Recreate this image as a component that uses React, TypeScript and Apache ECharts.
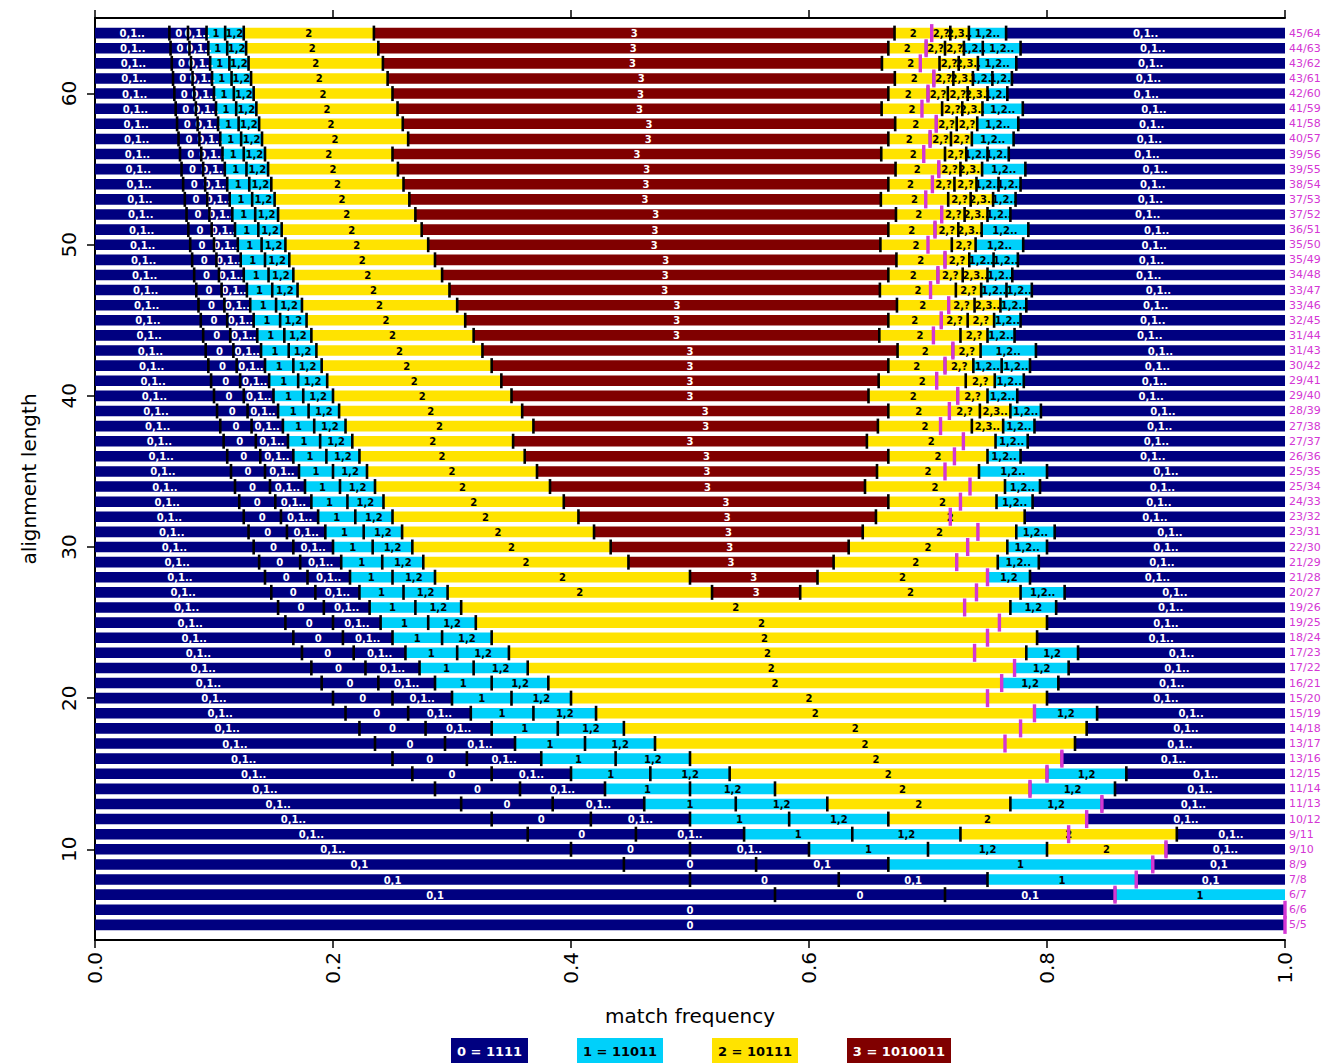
import React, { useEffect, useRef } from "react";
import * as echarts from "echarts";

// alignment lengths (rows, top to bottom)
const lengths = [
  64, 63, 62, 61, 60, 59, 58, 57, 56, 55, 54, 53, 52, 51, 50, 49, 48, 47, 46, 45,
  44, 43, 42, 41, 40, 39, 38, 37, 36, 35, 34, 33, 32, 31, 30, 29, 28, 27, 26, 25,
  24, 23, 22, 21, 20, 19, 18, 17, 16, 15, 14, 13, 12, 11, 10, 9, 8, 7, 6, 5,
];

// threshold number of matches per row (magenta mark, right label T/L)
const thresholds = [
  45, 44, 43, 43, 42, 41, 41, 40, 39, 39, 38, 37, 37, 36, 35, 35, 34, 33, 33, 32,
  31, 31, 30, 29, 29, 28, 27, 27, 26, 25, 25, 24, 23, 23, 22, 21, 21, 20, 19, 19,
  18, 17, 17, 16, 15, 15, 14, 13, 13, 12, 11, 11, 10, 9, 9, 8, 7, 6, 6, 5,
];

// segments per row: "endMatchCount:label" (segment runs from previous end)
const leftPart = "4:0,1.. 5:0 6:0,1.. 7:1 8:1,2";
const rowSegments = [
  `${leftPart} 15:2 43:3 45:2 46:2,? 47:2,3.. 49:1,2.. 64:0,1..`,
  `${leftPart} 15:2 42:3 44:2 45:2,? 46:2,? 47:1,2.. 49:1,2.. 63:0,1..`,
  `${leftPart} 15:2 41:3 44:2 45:2,? 46:2,3.. 48:1,2.. 62:0,1..`,
  `${leftPart} 15:2 41:3 43:2 44:2,? 45:2,3.. 46:1,2.. 47:1,2.. 61:0,1..`,
  `${leftPart} 15:2 40:3 42:2 43:2,? 44:2,? 45:2,3.. 46:1,2.. 60:0,1..`,
  `${leftPart} 15:2 39:3 42:2 43:2,? 44:2,3.. 46:1,2.. 59:0,1..`,
  `${leftPart} 15:2 39:3 41:2 42:2,? 43:2,? 45:1,2.. 58:0,1..`,
  `${leftPart} 15:2 38:3 40:2 41:2,? 42:2,? 44:1,2.. 57:0,1..`,
  `${leftPart} 14:2 37:3 40:2 41:2,? 42:1,2.. 43:1,2.. 56:0,1..`,
  `${leftPart} 14:2 37:3 39:2 40:2,? 41:2,3.. 43:1,2.. 55:0,1..`,
  `${leftPart} 14:2 36:3 38:2 39:2,? 40:2,? 41:1,2.. 42:1,2.. 54:0,1..`,
  `${leftPart} 14:2 35:3 38:2 39:2,? 40:2,3.. 41:1,2.. 53:0,1..`,
  `${leftPart} 14:2 35:3 37:2 38:2,? 39:2,3.. 40:1,2.. 52:0,1..`,
  `${leftPart} 14:2 34:3 36:2 37:2,? 38:2,3.. 40:1,2.. 51:0,1..`,
  `${leftPart} 14:2 33:3 36:2 37:2,? 39:1,2.. 50:0,1..`,
  `${leftPart} 14:2 33:3 35:2 36:2,? 37:1,2.. 38:1,2.. 49:0,1..`,
  `${leftPart} 14:2 32:3 34:2 35:2,? 36:2,3.. 37:1,2.. 48:0,1..`,
  `${leftPart} 14:2 31:3 34:2 35:2,? 36:1,2.. 37:1,2.. 47:0,1..`,
  `${leftPart} 14:2 31:3 33:2 34:2,? 35:2,3.. 36:1,2.. 46:0,1..`,
  `${leftPart} 14:2 30:3 32:2 33:2,? 34:2,? 35:1,2.. 45:0,1..`,
  `${leftPart} 14:2 29:3 32:2 33:2,? 34:1,2.. 44:0,1..`,
  `${leftPart} 14:2 29:3 31:2 32:2,? 34:1,2.. 43:0,1..`,
  `${leftPart} 14:2 28:3 30:2 31:2,? 32:1,2.. 33:1,2.. 42:0,1..`,
  `${leftPart} 14:2 27:3 30:2 31:2,? 32:1,2.. 41:0,1..`,
  `${leftPart} 14:2 26:3 29:2 30:2,? 31:1,2.. 40:0,1..`,
  `${leftPart} 14:2 26:3 28:2 29:2,? 30:2,3.. 31:1,2.. 39:0,1..`,
  `${leftPart} 14:2 25:3 28:2 29:2,3.. 30:1,2.. 38:0,1..`,
  `${leftPart} 13:2 24:3 28:2 29:1,2.. 37:0,1..`,
  `${leftPart} 13:2 24:3 27:2 28:1,2.. 36:0,1..`,
  `${leftPart} 13:2 23:3 26:2 28:1,2.. 35:0,1..`,
  `${leftPart} 13:2 22:3 26:2 27:1,2.. 34:0,1..`,
  `${leftPart} 13:2 22:3 25:2 26:1,2.. 33:0,1..`,
  `${leftPart} 13:2 21:3 25:2 32:0,1..`,
  `${leftPart} 13:2 20:3 24:2 25:1,2.. 31:0,1..`,
  `${leftPart} 13:2 19:3 23:2 24:1,2.. 30:0,1..`,
  `${leftPart} 13:2 18:3 22:2 23:1,2.. 29:0,1..`,
  `${leftPart} 14:2 17:3 21:2 22:1,2 28:0,1..`,
  `${leftPart} 14:2 16:3 21:2 22:1,2.. 27:0,1..`,
  `${leftPart} 20:2 21:1,2 26:0,1..`,
  `${leftPart} 20:2 25:0,1..`,
  `${leftPart} 19:2 24:0,1..`,
  `${leftPart} 18:2 19:1,2 23:0,1..`,
  `${leftPart} 17:2 18:1,2 22:0,1..`,
  `${leftPart} 16:2 17:1,2 21:0,1..`,
  `${leftPart} 16:2 20:0,1..`,
  `${leftPart} 15:2 16:1,2 19:0,1..`,
  `${leftPart} 15:2 18:0,1..`,
  `${leftPart} 14:2 17:0,1..`,
  `${leftPart} 13:2 16:0,1..`,
  `${leftPart} 12:2 13:1,2 15:0,1..`,
  `${leftPart} 11:2 12:1,2 14:0,1..`,
  `${leftPart} 10:2 11:1,2 13:0,1..`,
  `${leftPart} 10:2 12:0,1..`,
  `${leftPart} 10:2 11:0,1..`,
  `${leftPart} 9:2 10:0,1..`,
  "4:0,1 5:0 6:0,1 8:1 9:0,1",
  "4:0,1 5:0 6:0,1 7:1 8:0,1",
  "4:0,1 5:0 6:0,1 7:1",
  "6:0",
  "5:0",
];

const classColors = ["#000080", "#00d0fa", "#ffe300", "#800000"];
const classTextColors = ["#ffffff", "#000000", "#000000", "#ffffff"];
const legendLabels = ["0 = 1111", "1 = 11011", "2 = 10111", "3 = 1010011"];
const xTickValues = [0, 0.2, 0.4, 0.6, 0.8, 1.0];
const yTickValues = [10, 20, 30, 40, 50, 60];

const FONT = "DejaVu Sans";
const MAGENTA = "#d436d4";

type Seg = { L: number; x0: number; x1: number; label: string; cls: number };

function buildData() {
  const segs: Seg[] = [];
  const bounds: { L: number; x: number }[] = [];
  const marks: { L: number; x: number }[] = [];
  lengths.forEach((L, i) => {
    const parts = rowSegments[i].trim().split(/\s+/);
    let prev = 0;
    parts.forEach((p, j) => {
      const c = p.indexOf(":");
      const k = Number(p.slice(0, c));
      const label = p.slice(c + 1);
      segs.push({ L, x0: prev / L, x1: k / L, label, cls: Number(label[0]) });
      if (j < parts.length - 1) bounds.push({ L, x: k / L });
      prev = k;
    });
    marks.push({ L, x: thresholds[i] / L });
  });
  return { segs, bounds, marks };
}

export default function App() {
  const ref = useRef<HTMLDivElement>(null);
  useEffect(() => {
    if (!ref.current) return;
    const chart = echarts.init(ref.current, null, { renderer: "svg" });
    const { segs, bounds, marks } = buildData();
    const rightLabel: Record<number, string> = {};
    lengths.forEach((L, i) => (rightLabel[L] = `${thresholds[i]}/${L}`));

    const legendX = [451, 577, 712, 847];
    const legendW = [77, 86, 86, 104];

    const option: any = {
      animation: false,
      backgroundColor: "#ffffff",
      grid: { left: 95, right: 52, top: 18, bottom: 123, containLabel: false, outerBoundsMode: "none" },
      xAxis: [
        {
          type: "value",
          min: 0,
          max: 1,
          interval: 0.2,
          position: "bottom",
          axisLine: { show: true, lineStyle: { color: "#000", width: 2 } },
          axisTick: { show: true, length: 8, lineStyle: { color: "#000", width: 1.5 }, customValues: xTickValues },
          axisLabel: {
            customValues: xTickValues,
            rotate: 90,
            fontSize: 20,
            fontFamily: FONT,
            color: "#000",
            margin: 12,
            formatter: (v: number) => v.toFixed(1),
          },
          splitLine: { show: false },
          name: "match frequency",
          nameLocation: "middle",
          nameGap: 66,
          nameTextStyle: { fontSize: 20, fontFamily: FONT, color: "#000", verticalAlign: "top" },
        },
        {
          type: "value",
          min: 0,
          max: 1,
          interval: 0.2,
          position: "top",
          axisLine: { show: true, lineStyle: { color: "#000", width: 2 } },
          axisTick: { show: true, length: 8, lineStyle: { color: "#000", width: 1.5 }, customValues: xTickValues },
          axisLabel: { show: false },
          splitLine: { show: false },
        },
      ],
      yAxis: [
        {
          type: "value",
          min: 4,
          max: 65,
          position: "left",
          axisLine: { show: true, lineStyle: { color: "#000", width: 2 } },
          axisTick: { show: true, length: 8, lineStyle: { color: "#000", width: 1.5 }, customValues: yTickValues },
          axisLabel: {
            customValues: yTickValues,
            rotate: 90,
            fontSize: 20,
            fontFamily: FONT,
            color: "#000",
            margin: 16,
          },
          splitLine: { show: false },
          name: "alignment length",
          nameLocation: "middle",
          nameGap: 56,
          nameRotate: 90,
          nameTextStyle: { fontSize: 20, fontFamily: FONT, color: "#000" },
        },
        {
          type: "value",
          min: 4,
          max: 65,
          position: "right",
          axisLine: { show: true, lineStyle: { color: "#000", width: 2 } },
          axisTick: { show: true, length: 8, lineStyle: { color: "#000", width: 1.5 }, customValues: yTickValues },
          axisLabel: { show: false },
          splitLine: { show: false },
        },
        {
          type: "value",
          min: 4,
          max: 65,
          position: "right",
          axisLine: { show: false },
          axisTick: { show: false },
          axisLabel: {
            customValues: lengths,
            fontSize: 11,
            fontFamily: FONT,
            color: MAGENTA,
            margin: 4,
            formatter: (v: number) => rightLabel[v] ?? "",
          },
          splitLine: { show: false },
        },
      ],
      series: [
        {
          type: "custom",
          z: 2,
          xAxisIndex: 0,
          yAxisIndex: 0,
          encode: { x: [0, 1], y: 2 },
          data: segs.map((s) => [s.x0, s.x1, s.L]),
          renderItem: (params: any, api: any) => {
            const s = segs[params.dataIndex];
            const a = api.coord([s.x0, s.L]);
            const b = api.coord([s.x1, s.L]);
            const h = api.size([0, 1])[1] * 0.7;
            return {
              type: "rect",
              shape: { x: a[0], y: a[1] - h / 2, width: b[0] - a[0], height: h },
              style: { fill: classColors[s.cls] },
            };
          },
        },
        {
          type: "custom",
          z: 3,
          xAxisIndex: 0,
          yAxisIndex: 0,
          encode: { x: [0, 1], y: 2 },
          data: segs.map((s) => [s.x0, s.x1, s.L]),
          renderItem: (params: any, api: any) => {
            const s = segs[params.dataIndex];
            const a = api.coord([(s.x0 + s.x1) / 2, s.L]);
            return {
              type: "text",
              x: a[0],
              y: a[1] + 0.5,
              style: {
                text: s.label,
                align: "center",
                verticalAlign: "middle",
                fill: classTextColors[s.cls],
                fontSize: 10,
                fontWeight: "bold",
                fontFamily: FONT,
              },
            };
          },
        },
        {
          type: "custom",
          z: 4,
          xAxisIndex: 0,
          yAxisIndex: 0,
          encode: { x: 0, y: 1 },
          data: bounds.map((b) => [b.x, b.L]),
          renderItem: (params: any, api: any) => {
            const b = bounds[params.dataIndex];
            const p = api.coord([b.x, b.L]);
            return {
              type: "rect",
              shape: { x: p[0] - 1.3, y: p[1] - 7.5, width: 2.6, height: 15 },
              style: { fill: "#000000" },
            };
          },
        },
        {
          type: "custom",
          z: 5,
          xAxisIndex: 0,
          yAxisIndex: 0,
          encode: { x: 0, y: 1 },
          data: marks.map((m) => [m.x, m.L]),
          renderItem: (params: any, api: any) => {
            const m = marks[params.dataIndex];
            const p = api.coord([m.x, m.L]);
            return {
              type: "rect",
              shape: { x: p[0] - 1.7, y: p[1] - 9, width: 3.4, height: 18 },
              style: { fill: MAGENTA },
            };
          },
        },
      ],
      graphic: legendLabels.map((t, i) => ({
        type: "group",
        x: legendX[i],
        y: 1038,
        children: [
          {
            type: "rect",
            shape: { x: 0, y: 0, width: legendW[i], height: 26 },
            style: { fill: classColors[i] },
          },
          {
            type: "text",
            x: legendW[i] / 2,
            y: 13,
            style: {
              text: t,
              align: "center",
              verticalAlign: "middle",
              fill: classTextColors[i],
              fontSize: 13,
              fontWeight: "bold",
              fontFamily: FONT,
            },
          },
        ],
      })),
    };
    chart.setOption(option);
    return () => chart.dispose();
  }, []);
  return (
    <div
      ref={ref}
      style={{ position: "fixed", left: 0, top: 0, width: 1337, height: 1063, background: "#fff" }}
    />
  );
}
